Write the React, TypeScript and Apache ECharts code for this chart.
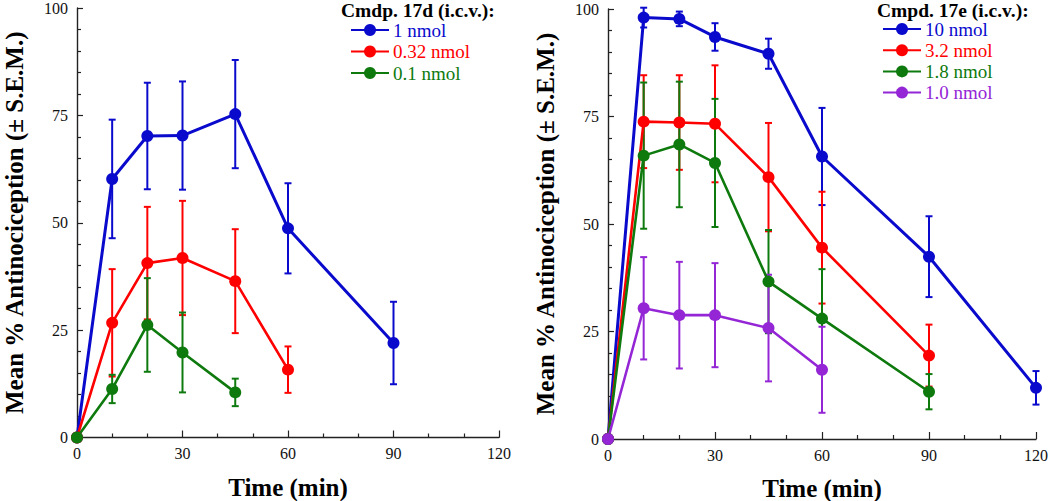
import React, { useEffect, useRef } from "react";
import * as echarts from "echarts";

// ---- Data ----
const FONT = "'Liberation Serif', 'Times New Roman', serif";

// Left panel: Cmdp. 17d (i.c.v.)
const leftTitle = "Cmdp. 17d (i.c.v.):";
const leftNames = ["1 nmol", "0.32 nmol", "0.1 nmol"];
const leftTimes = [
  [0, 10, 20, 30, 45, 60, 90],
  [0, 10, 20, 30, 45, 60],
  [0, 10, 20, 30, 45],
];
const leftMeans = [
  [0, 60.2, 70.2, 70.3, 75.3, 48.7, 22.0],
  [0, 26.7, 40.6, 41.8, 36.4, 15.8],
  [0, 11.3, 26.2, 19.8, 10.5],
];
const leftSems = [
  [0, 13.8, 12.4, 12.6, 12.6, 10.5, 9.6],
  [0, 12.5, 13.1, 13.3, 12.1, 5.4],
  [0, 3.3, 10.9, 9.3, 3.2],
];

// Right panel: Cmpd. 17e (i.c.v.)
const rightTitle = "Cmpd. 17e (i.c.v.):";
const rightNames = ["10 nmol", "3.2 nmol", "1.8 nmol", "1.0 nmol"];
const rightTimes = [
  [0, 10, 20, 30, 45, 60, 90, 120],
  [0, 10, 20, 30, 45, 60, 90],
  [0, 10, 20, 30, 45, 60, 90],
  [0, 10, 20, 30, 45, 60],
];
const rightMeans = [
  [0, 98.0, 97.7, 93.5, 89.6, 65.7, 42.4, 11.9],
  [0, 73.8, 73.6, 73.3, 60.9, 44.5, 19.4],
  [0, 65.9, 68.5, 64.2, 36.6, 28.0, 11.0],
  [0, 30.4, 28.8, 28.8, 25.8, 16.1],
];
const rightSems = [
  [0, 2.3, 1.7, 3.2, 3.5, 11.3, 9.4, 3.9],
  [0, 10.8, 11.0, 13.6, 12.6, 13.0, 7.2],
  [0, 17.0, 14.6, 14.9, 12.0, 11.5, 4.1],
  [0, 11.9, 12.4, 12.1, 12.4, 10.0],
];

const xTicks = [0, 30, 60, 90, 120];
const yTicks = [0, 25, 50, 75, 100];
const xTitle = "Time (min)";
const yTitle = "Mean % Antinociception (\u00b1 S.E.M.)";

const leftColors = ["#0a0acd", "#ff0000", "#0e7a0e"];
const rightColors = ["#0a0acd", "#ff0000", "#0e7a0e", "#9426d6"];

function buildSeries(
  names: string[],
  times: number[][],
  means: number[][],
  sems: number[][],
  colors: string[],
  axisIndex: number
) {
  const out: any[] = [];
  names.forEach((name, i) => {
    const color = colors[i];
    out.push({
      type: "custom",
      name: name + " err",
      xAxisIndex: axisIndex,
      yAxisIndex: axisIndex,
      encode: { x: 0, y: 1 },
      data: times[i].map((t, j) => [t, means[i][j], sems[i][j]]),
      renderItem: (params: any, api: any) => {
        const x = api.value(0);
        const y = api.value(1);
        const e = api.value(2);
        if (!e) return null;
        const top = api.coord([x, y + e]);
        const bot = api.coord([x, y - e]);
        const w = 3.5;
        const st = { stroke: color, lineWidth: 2 };
        return {
          type: "group",
          children: [
            { type: "line", shape: { x1: top[0], y1: top[1], x2: bot[0], y2: bot[1] }, style: st },
            { type: "line", shape: { x1: top[0] - w, y1: top[1], x2: top[0] + w, y2: top[1] }, style: st },
            { type: "line", shape: { x1: bot[0] - w, y1: bot[1], x2: bot[0] + w, y2: bot[1] }, style: st },
          ],
        };
      },
      z: 2,
    });
    out.push({
      type: "line",
      name,
      xAxisIndex: axisIndex,
      yAxisIndex: axisIndex,
      data: times[i].map((t, j) => [t, means[i][j]]),
      symbol: "circle",
      symbolSize: 12,
      color,
      itemStyle: { color },
      lineStyle: { color, width: i === 0 ? 3 : 2.6 },
      z: 3,
    });
  });
  return out;
}

function xAxisDef(gridIndex: number) {
  return {
    type: "value",
    gridIndex,
    min: 0,
    max: 120,
    interval: 30,
    name: xTitle,
    nameLocation: "middle",
    nameGap: 37,
    nameTextStyle: { fontFamily: FONT, fontSize: 25, fontWeight: "bold", color: "#000" },
    axisLine: { show: true, onZero: false, lineStyle: { color: "#222", width: 1.4 } },
    axisTick: { show: true, inside: true, length: 7, lineStyle: { color: "#222", width: 1.2 } },
    minorTick: { show: true, splitNumber: 3, length: 4, lineStyle: { color: "#222", width: 1.2 } },
    splitLine: { show: false },
    axisLabel: {
      fontFamily: FONT,
      fontSize: 16,
      color: "#111",
      margin: 8,
      formatter: (v: number) => (xTicks.includes(v) ? String(v) : ""),
    },
  };
}

function yAxisDef(gridIndex: number) {
  return {
    type: "value",
    gridIndex,
    min: 0,
    max: 100,
    interval: 25,
    name: yTitle,
    nameLocation: "middle",
    nameGap: 52,
    nameTextStyle: {
      fontFamily: FONT,
      fontSize: 25,
      fontWeight: "bold",
      color: "#000",
      lineHeight: 22,
    },
    axisLine: { show: true, onZero: false, lineStyle: { color: "#222", width: 1.4 } },
    axisTick: { show: true, inside: true, length: 6, lineStyle: { color: "#222", width: 1.2 } },
    minorTick: { show: true, splitNumber: 5, length: 4, lineStyle: { color: "#222", width: 1.2 } },
    splitLine: { show: false },
    axisLabel: {
      fontFamily: FONT,
      fontSize: 16,
      lineHeight: 12,
      color: "#111",
      margin: 9,
      formatter: (v: number) => (yTicks.includes(v) ? String(v) : ""),
    },
  };
}

export default function App() {
  const ref = useRef<HTMLDivElement>(null);
  useEffect(() => {
    if (!ref.current) return;
    const chart = echarts.init(ref.current, null, { renderer: "svg" });
    const legendText = (names: string[], colors: string[]) =>
      names.map((n, i) => ({ name: n, textStyle: { color: colors[i] } }));
    chart.setOption({
      animation: false,
      backgroundColor: "#fff",
      grid: [
        { left: 77, top: 8, width: 422, height: 429.5, containLabel: false, outerBoundsMode: "none" },
        { left: 608, top: 9, width: 428, height: 430, containLabel: false, outerBoundsMode: "none" },
      ],
      xAxis: [xAxisDef(0), xAxisDef(1)],
      yAxis: [yAxisDef(0), yAxisDef(1)],
      legend: [
        {
          orient: "vertical",
          left: 345,
          top: 15,
          itemWidth: 38,
          itemHeight: 15,
          itemGap: 1.5,
          selectedMode: false,
          data: legendText(leftNames, leftColors),
          textStyle: { fontFamily: FONT, fontSize: 19, lineHeight: 20, padding: [0, 0, 0, -1] },
        },
        {
          orient: "vertical",
          left: 877,
          top: 14,
          itemWidth: 38,
          itemHeight: 15,
          itemGap: 1.2,
          selectedMode: false,
          data: legendText(rightNames, rightColors),
          textStyle: { fontFamily: FONT, fontSize: 19, lineHeight: 20, padding: [0, 0, 0, -1] },
        },
      ],
      graphic: [
        {
          type: "text",
          left: 341,
          top: 0,
          style: {
            text: leftTitle,
            fontFamily: FONT,
            fontSize: 19.5,
            fontWeight: "bold",
            fill: "#000",
          },
        },
        {
          type: "text",
          left: 877,
          top: 0,
          style: {
            text: rightTitle,
            fontFamily: FONT,
            fontSize: 19.5,
            fontWeight: "bold",
            fill: "#000",
          },
        },
      ],
      series: [
        ...buildSeries(leftNames, leftTimes, leftMeans, leftSems, leftColors, 0),
        ...buildSeries(rightNames, rightTimes, rightMeans, rightSems, rightColors, 1),
      ],
    });
    return () => chart.dispose();
  }, []);
  return (
    <div
      ref={ref}
      style={{ position: "fixed", left: 0, top: 0, width: 1050, height: 501, background: "#fff" }}
    />
  );
}
